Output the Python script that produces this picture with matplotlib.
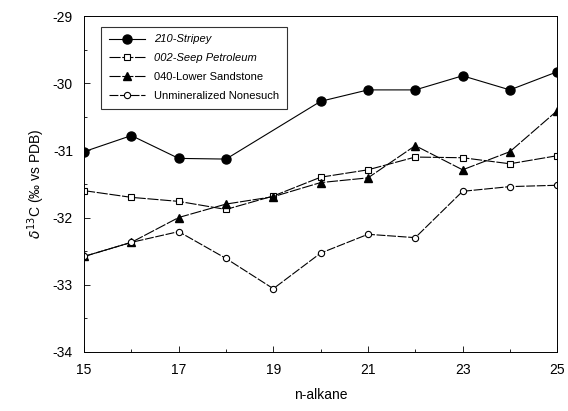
import numpy as np
import matplotlib
matplotlib.use("Agg")
import matplotlib.pyplot as plt
from matplotlib.ticker import MultipleLocator

plt.rcParams['font.family'] = ['Liberation Sans', 'DejaVu Sans']
plt.rcParams['axes.unicode_minus'] = False

# carbon numbers
x_all = [15, 16, 17, 18, 19, 20, 21, 22, 23, 24, 25]
x_stripey = [15, 16, 17, 18, 20, 21, 22, 23, 24, 25]
x_ticks = [15, 17, 19, 21, 23, 25]

stripey = [-31.02, -30.78, -31.12, -31.13, -30.27, -30.10, -30.10, -29.89, -30.10, -29.83]
seep = [-31.60, -31.70, -31.76, -31.88, -31.68, -31.40, -31.29, -31.10, -31.11, -31.20, -31.08]
sandstone = [-32.58, -32.37, -32.00, -31.80, -31.69, -31.48, -31.41, -30.93, -31.29, -31.02, -30.41]
nonesuch = [-32.58, -32.37, -32.21, -32.61, -33.06, -32.53, -32.25, -32.30, -31.61, -31.54, -31.52]

labels = ["210-Stripey", "002-Seep Petroleum", "040-Lower Sandstone",
          "Unmineralized Nonesuch"]

fig = plt.figure(figsize=(5.68, 4.11), dpi=100)
ax = fig.add_axes([0.148, 0.144, 0.833, 0.817])

ax.plot(x_stripey, stripey, '-', color='black', lw=0.8, marker='o',
        ms=6.5, mfc='black', label=labels[0])
ax.plot(x_all, seep, color='black', lw=0.8, ls=(0, (10, 1.5)), marker='s',
        ms=5, mfc='white', mew=0.8, label=labels[1])
ax.plot(x_all, sandstone, color='black', lw=0.8, ls=(0, (10, 1.5)), marker='^',
        ms=5.5, mfc='black', label=labels[2])
ax.plot(x_all, nonesuch, color='black', lw=0.8, ls=(0, (8, 1.5)), marker='o',
        ms=4.5, mfc='white', mew=0.8, label=labels[3])

ax.set_xlim(15, 25)
ax.set_ylim(-34, -29)
ax.set_xticks(x_ticks)
ax.xaxis.set_minor_locator(MultipleLocator(1))
ax.yaxis.set_major_locator(MultipleLocator(1))
ax.yaxis.set_minor_locator(MultipleLocator(0.5))
ax.tick_params(which='both', direction='in', top=False, right=False,
               labelsize=10, width=0.6)
ax.tick_params(which='major', length=4, pad=8)
ax.tick_params(which='minor', length=2)
for s in ax.spines.values():
    s.set_linewidth(0.7)

ax.set_xlabel("n-alkane", fontsize=10, labelpad=8)
ax.set_ylabel(r"$\delta^{13}$C (‰ vs PDB)", fontsize=10)

leg = ax.legend(loc='upper left', bbox_to_anchor=(0.025, 0.985), fontsize=8,
                frameon=True, fancybox=False, edgecolor='black',
                handlelength=3.2, labelspacing=0.8, borderpad=0.7)
leg.get_frame().set_linewidth(0.8)
for t in leg.get_texts()[:2]:
    t.set_style('italic')

fig.savefig("out.png", dpi=100)
